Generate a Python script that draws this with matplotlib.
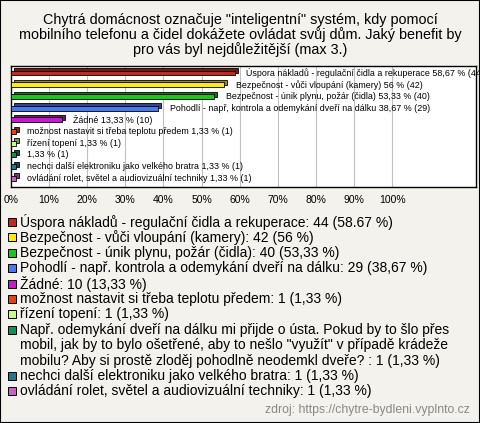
import textwrap
import matplotlib
matplotlib.use("Agg")
import matplotlib.pyplot as plt
import matplotlib.colors as mcolors
from matplotlib.patches import Rectangle

plt.rcParams['font.family'] = ['Liberation Sans', 'DejaVu Sans']

title = ('Chytrá domácnost označuje "inteligentní" systém, kdy pomocí\n'
         'mobilního telefonu a čidel dokážete ovládat svůj dům. Jaký benefit by\n'
         'pro vás byl nejdůležitější (max 3.)')

names = [
    'Úspora nákladů - regulační čidla a rekuperace',
    'Bezpečnost - vůči vloupání (kamery)',
    'Bezpečnost - únik plynu, požár (čidla)',
    'Pohodlí - např. kontrola a odemykání dveří na dálku',
    'Žádné',
    'možnost nastavit si třeba teplotu předem',
    'řízení topení',
    'Např. odemykání dveří na dálku mi přijde o ústa. Pokud by to šlo přes '
    'mobil, jak by to bylo ošetřené, aby to nešlo "využít" v případě krádeže '
    'mobilu? Aby si prostě zloděj pohodlně neodemkl dveře? ',
    'nechci další elektroniku jako velkého bratra',
    'ovládání rolet, světel a audiovizuální techniky',
]
counts = [44, 42, 40, 29, 10, 1, 1, 1, 1, 1]
pcts = [58.67, 56, 53.33, 38.67, 13.33, 1.33, 1.33, 1.33, 1.33, 1.33]
colors = ['#c42a1c', '#ffe81a', '#1cc41c', '#4a78ee', '#c41ccc',
          '#e8420e', '#c4ff82', '#12905a', '#1f7890', '#c862c8']
ticks = [0, 10, 20, 30, 40, 50, 60, 70, 80, 90, 100]
source = 'zdroj: https://chytre-bydleni.vyplnto.cz'

bg = '#f4f2ec'
W, H = 480, 423
fig = plt.figure(figsize=(4.8, 4.23), dpi=100, facecolor=bg)

fig.text(0.5, 1 - 35 / H, title, ha='center', va='center', fontsize=10.4,
         linespacing=1.02)

# bar area
ax = fig.add_axes([11 / W, 1 - 187 / H, 465 / W, 121 / H])
ax.set_facecolor('white')
for s in ax.spines.values():
    s.set_linewidth(1.0)
    s.set_color('black')

dx, dy = 0.8, -0.2
for i, (p, c) in enumerate(zip(pcts, colors)):
    dark = [v * 0.6 for v in mcolors.to_rgb(c)]
    # back face gives the bars a little depth
    ax.barh(i + dy, p, left=dx, height=0.42, color=dark,
            edgecolor='black', linewidth=0.6, zorder=3)
    ax.barh(i, p, height=0.42, color=c, edgecolor='black',
            linewidth=0.6, zorder=4)
    label = names[i] if len(names[i]) < 80 else ''
    txt = f'{label} {p:g} % ({counts[i]})'.replace('.', ',').strip()
    ax.annotate(txt, (p + dx, i), xytext=(6, 0), textcoords='offset points',
                va='center', ha='left', fontsize=6.4, zorder=5,
                annotation_clip=False)

ax.set_xlim(0, 122)
ax.set_ylim(len(names) - 0.25, -0.6)
ax.set_yticks([])
ax.set_xticks(ticks)
ax.set_xticklabels([f'{t}%' for t in ticks], fontsize=7.5)
ax.tick_params(axis='x', length=0, pad=6)
for t in ticks[1:]:
    ax.axvline(t, color='#c0c0c0', linewidth=0.8, zorder=1)

# legend
y = 222
for i, name in enumerate(names):
    sep = '.' if i == 0 else ','
    entry = f'{name}: {counts[i]} ({pcts[i]:g} %)'
    entry = entry.replace(f'{pcts[i]:g}', f'{pcts[i]:g}'.replace('.', sep))
    lines = textwrap.wrap(entry, 72)
    fig.patches.append(Rectangle((8 / W, 1 - (y + 4) / H), 8 / W, 8 / H,
                                 transform=fig.transFigure, facecolor=colors[i],
                                 edgecolor='black', linewidth=0.7))
    for ln in lines:
        fig.text(20 / W, 1 - y / H, ln, ha='left', va='center', fontsize=10)
        y += 15.4

fig.text(470 / W, 1 - 410 / H, source, ha='right', va='center',
         fontsize=8.8, color='#888888')

fig.patches.append(Rectangle((0, 0), 1, 1, transform=fig.transFigure,
                             fill=False, edgecolor='black', linewidth=1.5))

fig.savefig('out.png', dpi=100, facecolor=bg)
